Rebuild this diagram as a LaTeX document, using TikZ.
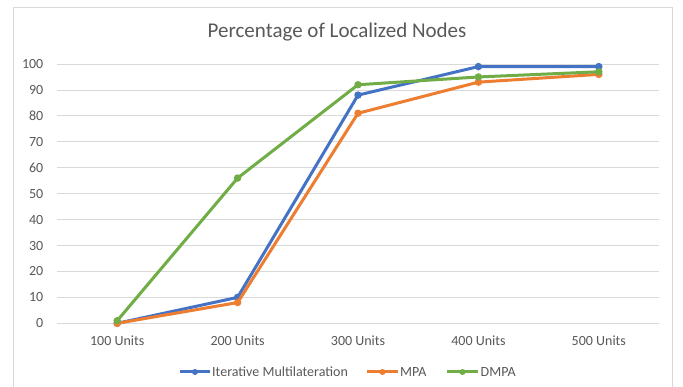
\documentclass[tikz,border=0pt]{standalone}
\usepackage{fontspec}
\setmainfont{Carlito}
\definecolor{cblue}{HTML}{4472C4}
\definecolor{corange}{HTML}{ED7D31}
\definecolor{cgreen}{HTML}{70AD47}
\definecolor{cgrid}{HTML}{D9D9D9}
\definecolor{ctext}{HTML}{595959}
\definecolor{cframe}{HTML}{D9D9D9}
\tikzset{
  gridline/.style={draw=cgrid, line width=0.8pt},
  ticklbl/.style={text=ctext, font=\fontsize{14}{16}\selectfont, inner sep=0pt},
  series/.style={line width=3pt, line join=round, line cap=round},
  dotmark/.style={circle, fill=#1, inner sep=0pt, minimum size=7.5pt},
}
\newcommand{\yv}[1]{323.3-2.593*#1}
\begin{document}
\begin{tikzpicture}[x=1pt,y=-1pt]
\useasboundingbox (0,0) rectangle (683,387);
\fill[white] (0,0) rectangle (683,387);
% frame
\draw[cframe, line width=0.8pt] (13,387) -- (13,7.5) -- (672.5,7.5) -- (672.5,387);
% title
\node[text=ctext, font=\fontsize{21}{25}\selectfont, inner sep=0pt] (title) at (337,32) {Percentage of Localized Nodes};
% grid and y labels
\foreach \v in {0,10,...,100}{
  \coordinate (gl\v) at (57,{\yv{\v}});
  \coordinate (gr\v) at (659,{\yv{\v}});
  \draw[gridline] (gl\v) -- (gr\v);
  \node[ticklbl, anchor=east] (yl\v) at (43.5,{\yv{\v}}) {\v};
}
% x labels
\foreach \i/\n in {1/100,2/200,3/300,4/400,5/500}{
  \node[ticklbl] (xl\i) at ({57+120.4*(\i-0.5)},341) {\n{} Units};
}
% series
\foreach \name/\col/\vals in {it/cblue/{0,10,88,99,99}, mpa/corange/{0,8,81,93,96}, dm/cgreen/{1,56,92,95,97}}{
  \foreach \v [count=\i] in \vals {
    \coordinate (\name\i) at ({57+120.4*(\i-0.5)},{\yv{\v}});
  }
  \draw[series, draw=\col] (\name1) -- (\name2) -- (\name3) -- (\name4) -- (\name5);
  \foreach \i in {1,...,5}{
    \node[dotmark=\col] (\name m\i) at (\name\i) {};
  }
}
% legend
\coordinate (la1) at (180,372); \coordinate (lb1) at (210,372);
\draw[series, draw=cblue, line cap=butt] (la1) -- (lb1);
\node[dotmark=cblue, minimum size=6pt] (lm1) at (195,372) {};
\node[ticklbl, anchor=west] (lt1) at (212,372) {Iterative Multilateration};
\coordinate (la2) at (367,372); \coordinate (lb2) at (398,372);
\draw[series, draw=corange, line cap=butt] (la2) -- (lb2);
\node[dotmark=corange, minimum size=6pt] (lm2) at (382.5,372) {};
\node[ticklbl, anchor=west] (lt2) at (400,372) {MPA};
\coordinate (la3) at (447,372); \coordinate (lb3) at (478,372);
\draw[series, draw=cgreen, line cap=butt] (la3) -- (lb3);
\node[dotmark=cgreen, minimum size=6pt] (lm3) at (462.5,372) {};
\node[ticklbl, anchor=west] (lt3) at (480.5,372) {DMPA};
\end{tikzpicture}
\end{document}
